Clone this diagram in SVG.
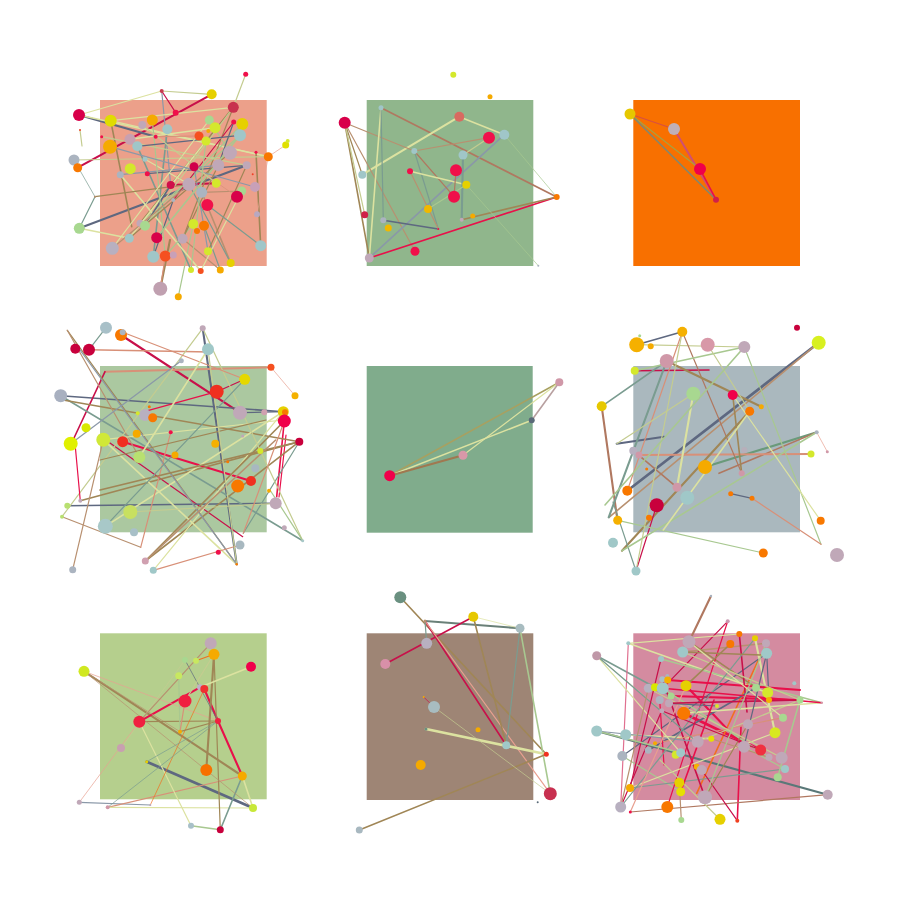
<svg xmlns="http://www.w3.org/2000/svg" width="900" height="900" viewBox="0 0 900 900">
<style>
line{stroke-width:1.2;stroke-linecap:round;fill:none}
.w05{stroke-width:0.7}.w15{stroke-width:1.6}.w2{stroke-width:2.1}.w3{stroke-width:2.7}
.s1{stroke:#5E6880}.s2{stroke:#A08656}.s3{stroke:#DCE2A0}.s4{stroke:#C8104A}.s5{stroke:#E8104A}.s6{stroke:#D89078}.s7{stroke:#A8C890}.s8{stroke:#7A9C90}.s9{stroke:#B89070}.s10{stroke:#C4CC90}.s11{stroke:#8A98A8}.s12{stroke:#E8A090}.s13{stroke:#B07860}.s14{stroke:#F07020}
.r{fill:#F0104A}.cr{fill:#C8003C}.y{fill:#E6D000}.yg{fill:#D4E82C}.o{fill:#F87800}.a{fill:#F5AA00}.lb{fill:#A0C6C8}.gb{fill:#ABB4C0}.lv{fill:#C0A8B8}.pk{fill:#D898AC}.lg{fill:#A8D890}.ro{fill:#F04028}.sg{fill:#6A9080}.sl{fill:#5A6A78}.cs{fill:#D86A60}
</style>
<rect width="900" height="900" fill="#fff"/>
<g id="panels">
<rect x="100" y="100" width="166.7" height="166" fill="#ECA08A"/>
<rect x="366.7" y="100" width="166.6" height="166" fill="#90B68C"/>
<rect x="633.3" y="100" width="166.7" height="166" fill="#F87000"/>
<rect x="100" y="366" width="166.7" height="166.3" fill="#ABC8A0"/>
<rect x="366.7" y="366" width="166" height="166.7" fill="#80AC8C"/>
<rect x="633.3" y="366" width="166.7" height="166.3" fill="#AAB8BE"/>
<rect x="100" y="633.3" width="166.7" height="166" fill="#B5CF8D"/>
<rect x="366.7" y="633.3" width="166.6" height="166.7" fill="#9E8575"/>
<rect x="633.3" y="633.3" width="166.7" height="166.7" fill="#D48BA0"/>
</g>
<g id="connectors">
<!-- panel 1 -->
<line class="s4 w2" x1="211.7" y1="94.3" x2="77.7" y2="167.7"/>
<line class="s1 w2" x1="79" y1="115" x2="155.7" y2="136.7"/>
<line class="s1 w2" x1="79.3" y1="228.3" x2="246.7" y2="165.3"/>
<line class="s4 w2" x1="170.7" y1="185" x2="216.3" y2="183.3"/>
<line class="s10" x1="245.7" y1="74.3" x2="233.3" y2="107.3"/>
<line class="s10" x1="211.7" y1="94.3" x2="161.7" y2="91"/>
<line class="s11" x1="161.7" y1="91" x2="170.7" y2="185"/>
<line class="s3 w15" x1="79" y1="115" x2="268.3" y2="156.7"/>
<line class="s3" x1="110.7" y1="120.7" x2="268.3" y2="156.7"/>
<line class="s2 w15" x1="233.3" y1="107.3" x2="140" y2="223.3"/>
<line class="s2" x1="233.3" y1="107.3" x2="182.7" y2="238.7"/>
<line class="s2 w15" x1="256" y1="152.3" x2="260.7" y2="245.7"/>
<line class="s2 w2" x1="160.3" y1="288.7" x2="170" y2="240"/>
<line class="s7" x1="178.3" y1="296.7" x2="193.3" y2="224"/>
<line class="s10" x1="74" y1="160" x2="268.3" y2="156.7"/>
<line class="s2 w15" x1="110.7" y1="120.7" x2="131.7" y2="226.7"/>
<line class="s3 w15" x1="129.3" y1="238.3" x2="79.3" y2="228.3"/>
<line class="s7" x1="240" y1="135.3" x2="140" y2="223.3"/>
<line class="s9" x1="241.7" y1="191" x2="201.7" y2="192.3"/>
<line class="s9 w15" x1="201.7" y1="192.3" x2="230.7" y2="263"/>
<line class="s8 w15" x1="167.3" y1="129.3" x2="153.3" y2="256.7"/>
<line class="s8 w15" x1="137.3" y1="146.3" x2="191" y2="270"/>
<line class="s3 w15" x1="120.3" y1="174.7" x2="200.7" y2="271"/>
<line class="s3" x1="145" y1="159.3" x2="189" y2="184.3"/>
<line class="s7" x1="242.3" y1="124" x2="145" y2="225.7"/>
<line class="s4" x1="233.7" y1="122" x2="173.3" y2="200"/>
<line class="s12 w05" x1="285.7" y1="145" x2="268.3" y2="156.7"/>
<line class="s1" x1="246.7" y1="165.3" x2="147.3" y2="173.7"/>
<line class="s11" x1="218.3" y1="165.3" x2="120.3" y2="174.7"/>
<line class="s7" x1="193.3" y1="224" x2="165.3" y2="256"/>
<line class="s3 w15" x1="206" y1="141" x2="129.3" y2="238.3"/>
<line class="s3 w15" x1="215" y1="127.7" x2="130" y2="139.3"/>
<line class="s7" x1="209.3" y1="120" x2="230" y2="152.7"/>
<line class="s11" x1="194" y1="166.7" x2="208" y2="251.3"/>
<line class="s8" x1="204" y1="225.7" x2="220.3" y2="270"/>
<line class="s9" x1="182.7" y1="238.7" x2="220.3" y2="270"/>
<line class="s6" x1="155.7" y1="136.7" x2="199" y2="136"/>
<line class="s12 w05" x1="268.3" y1="156.7" x2="257" y2="214.3"/>
<line class="s8 w05" x1="74" y1="160" x2="95" y2="196.7"/>
<line class="s8" x1="95" y1="196.7" x2="79.3" y2="228.3"/>
<line class="s1" x1="173.3" y1="200" x2="153.3" y2="256.7"/>
<line class="s1 w15" x1="170.7" y1="185" x2="145" y2="225.7"/>
<line class="s7" x1="152.3" y1="120" x2="165.3" y2="256"/>
<line class="s2" x1="95" y1="196.7" x2="189" y2="184.3"/>
<line class="s10" x1="80" y1="130" x2="82" y2="146"/>
<line class="s10" x1="101.7" y1="136.7" x2="246.7" y2="165.3"/>
<line class="s1" x1="137.3" y1="146.3" x2="240" y2="135.3"/>
<line class="s4" x1="161.7" y1="91" x2="175.7" y2="112.7"/>
<line class="s2" x1="208" y1="251.3" x2="246.7" y2="165.3"/>
<line class="s3" x1="200.7" y1="271" x2="241.7" y2="191"/>
<line class="s6" x1="165.3" y1="256" x2="160.3" y2="288.7"/>
<line class="s8" x1="189" y1="184.3" x2="230.7" y2="263"/>
<line class="s3" x1="110.7" y1="120.7" x2="233.3" y2="107.3"/>
<line class="s1" x1="218.3" y1="165.3" x2="233.7" y2="122"/>
<line class="s10" x1="233.3" y1="107.3" x2="145" y2="225.7"/>
<line class="s3" x1="209.3" y1="120" x2="112.3" y2="248.3"/>
<line class="s2" x1="230" y1="152.7" x2="129.3" y2="238.3"/>
<line class="s7 w15" x1="240" y1="135.3" x2="156.7" y2="237.7"/>
<line class="s11" x1="255" y1="187" x2="110" y2="146.7"/>
<line class="s3" x1="161.7" y1="91" x2="79" y2="115"/>
<line class="s2" x1="182.7" y1="238.7" x2="218.3" y2="165.3"/>
<line class="s8" x1="207.3" y1="205" x2="260.7" y2="245.7"/>
<line class="s6 w05" x1="237" y1="196.7" x2="194" y2="166.7"/>
<line class="s10" x1="142.3" y1="125" x2="216.3" y2="183.3"/>
<line class="s9" x1="112.3" y1="248.3" x2="189" y2="184.3"/>
<line class="s7" x1="191" y1="270" x2="206" y2="141"/>
<!-- panel 2 -->
<line class="s13 w15" x1="381" y1="107.7" x2="556.7" y2="197"/>
<line class="s3 w2" x1="362.3" y1="174.7" x2="459.3" y2="116.7"/>
<line class="s3 w15" x1="459.3" y1="116.7" x2="504.3" y2="134.7"/>
<line class="s2 w15" x1="344.7" y1="122.7" x2="369.3" y2="258"/>
<line class="s2" x1="344.7" y1="122.7" x2="362.3" y2="174.7"/>
<line class="s10" x1="344.7" y1="122.7" x2="364.7" y2="214.7"/>
<line class="s9" x1="344.7" y1="122.7" x2="415" y2="251.3"/>
<line class="s9" x1="344.7" y1="122.7" x2="414.3" y2="151"/>
<line class="s9" x1="414.3" y1="151" x2="489" y2="137.7"/>
<line class="s5 w15" x1="369.3" y1="258" x2="556.7" y2="197"/>
<line class="s11 w15" x1="369.3" y1="258" x2="504.3" y2="134.7"/>
<line class="s3 w15" x1="381" y1="107.7" x2="369.3" y2="258"/>
<line class="s8" x1="381" y1="107.7" x2="383.3" y2="220.3"/>
<line class="s1 w15" x1="383.3" y1="220.3" x2="438.3" y2="229"/>
<line class="s13" x1="414.3" y1="151" x2="454" y2="196.7"/>
<line class="s8" x1="414.3" y1="151" x2="438.3" y2="229"/>
<line class="s3 w15" x1="410" y1="171.3" x2="466.3" y2="184.7"/>
<line class="s9" x1="410" y1="171.3" x2="438.3" y2="229"/>
<line class="s8 w2" x1="463" y1="155" x2="461.7" y2="219.7"/>
<line class="s2 w15" x1="461.7" y1="219.7" x2="556.7" y2="197"/>
<line class="s13" x1="456" y1="170.3" x2="454" y2="196.7"/>
<line class="s7 w05" x1="466.3" y1="184.7" x2="538.3" y2="265.7"/>
<line class="s10" x1="463" y1="155" x2="489" y2="137.7"/>
<line class="s7" x1="428" y1="209" x2="466.3" y2="184.7"/>
<line class="s7 w05" x1="504.3" y1="134.7" x2="556.7" y2="197"/>
<!-- panel 3 -->
<line x1="630" y1="114" x2="674" y2="129" style="stroke:#D85040"/>
<line class="w2" x1="674" y1="129" x2="716" y2="199.7" style="stroke:#D05070"/>
<line x1="630" y1="114" x2="700" y2="169" style="stroke:#A8A040"/>
<line class="w15" x1="630" y1="114" x2="716" y2="199.7" style="stroke:#808870"/>
<line class="s5 w15" x1="700" y1="169" x2="716" y2="199.7"/>
<!-- panel 4 -->
<line class="s4 w2" x1="121" y1="335" x2="240" y2="412.7"/>
<line class="s6 w15" x1="89" y1="349.7" x2="210" y2="352"/>
<line class="s1 w2" x1="202.7" y1="328.3" x2="236.7" y2="564.3"/>
<line class="s1 w15" x1="60.7" y1="395.7" x2="283.3" y2="411.7"/>
<line class="s6 w2" x1="105" y1="371.7" x2="271" y2="367.3"/>
<line class="s4 w15" x1="105" y1="371.7" x2="74" y2="438"/>
<line class="s5 w2" x1="122.7" y1="441.7" x2="251" y2="481"/>
<line class="s4" x1="110" y1="443" x2="242.7" y2="536.7"/>
<line class="s1 w15" x1="67.3" y1="505.7" x2="275.7" y2="503.3"/>
<line class="s8 w15" x1="60.7" y1="395.7" x2="302.7" y2="540.7"/>
<line class="s4" x1="216.7" y1="391.7" x2="244.7" y2="379.3"/>
<line class="s5" x1="216.7" y1="391.7" x2="137.7" y2="413.3"/>
<line class="s5 w15" x1="284.3" y1="421" x2="276.7" y2="496.7"/>
<line class="s5" x1="286" y1="435" x2="279" y2="497"/>
<line class="s2 w15" x1="299.3" y1="441.7" x2="80.3" y2="500.7"/>
<line class="s2 w15" x1="299.3" y1="441.7" x2="145.3" y2="561"/>
<line class="s8" x1="299.3" y1="441.7" x2="243.3" y2="533.3"/>
<line class="s2 w15" x1="63" y1="400" x2="299.3" y2="441.7"/>
<line class="s1" x1="240" y1="412.7" x2="283.3" y2="411.7"/>
<line class="s3" x1="153.3" y1="570.3" x2="283.3" y2="411.7"/>
<line class="s2 w15" x1="145.3" y1="561" x2="284.3" y2="421"/>
<line class="s3 w15" x1="105.3" y1="526.3" x2="283.3" y2="411.7"/>
<line class="s2" x1="67.3" y1="330.3" x2="236.7" y2="564.3"/>
<line class="s9" x1="67.3" y1="330.3" x2="139.3" y2="457.3"/>
<line class="s9" x1="62" y1="516.7" x2="140.7" y2="547.3"/>
<line class="s6" x1="140.7" y1="547.3" x2="170.7" y2="432.3"/>
<line class="s10" x1="202.7" y1="328.3" x2="302.7" y2="540.7"/>
<line class="s10" x1="202.7" y1="328.3" x2="62" y2="516.7"/>
<line class="s3 w15" x1="103.3" y1="439.7" x2="236.7" y2="564.3"/>
<line class="s3" x1="103.3" y1="439.7" x2="283.3" y2="420"/>
<line class="s8" x1="106" y1="327.7" x2="89" y2="349.7"/>
<line class="s11" x1="80" y1="350" x2="236.7" y2="564.3"/>
<line class="s11" x1="70.7" y1="443.7" x2="181.3" y2="360.7"/>
<line class="s6" x1="122.7" y1="332.3" x2="244.7" y2="379.3"/>
<line class="s5" x1="74.5" y1="438" x2="80.3" y2="500.7"/>
<line class="s2 w15" x1="100" y1="490" x2="299.3" y2="441.7"/>
<line class="s10" x1="130.3" y1="512" x2="275.7" y2="503.3"/>
<line class="s6" x1="153.3" y1="570.3" x2="240" y2="545"/>
<line class="s9 w15" x1="145.3" y1="561" x2="275.7" y2="440"/>
<line class="s12 w05" x1="271" y1="367.3" x2="295" y2="395.7"/>
<line class="s7" x1="270" y1="490" x2="302.7" y2="540.7"/>
<line class="s2" x1="100" y1="460" x2="266" y2="420"/>
<line class="s8" x1="105.3" y1="526.3" x2="244.7" y2="379.3"/>
<line class="s9" x1="72.7" y1="569.7" x2="103.3" y2="439.7"/>
<line class="s3 w15" x1="139.3" y1="457.3" x2="208" y2="349.3"/>
<line class="s6" x1="284.3" y1="421" x2="243.3" y2="533.3"/>
<line class="s10" x1="208" y1="349.3" x2="236.7" y2="564.3"/>
<!-- panel 5 -->
<line class="w15" x1="389.7" y1="475.7" x2="559.3" y2="382.3" style="stroke:#A8A060"/>
<line class="s3 w15" x1="389.7" y1="475.7" x2="531.7" y2="420.3"/>
<line class="s3" x1="463" y1="455.3" x2="559.3" y2="382.3"/>
<line class="w2" x1="389.7" y1="475.7" x2="463" y2="455.3" style="stroke:#A07850"/>
<line class="w15" x1="531.7" y1="420.3" x2="559.3" y2="382.3" style="stroke:#B8A0A0"/>
<!-- panel 6 -->
<line class="s1 w15" x1="636.7" y1="344.7" x2="682.3" y2="331.7"/>
<line class="s10" x1="636.7" y1="344.7" x2="744.3" y2="347"/>
<line class="s4 w15" x1="634.7" y1="370.7" x2="709" y2="370"/>
<line class="s8 w15" x1="601.7" y1="406.3" x2="666.7" y2="361"/>
<line class="s13 w2" x1="601.7" y1="406.3" x2="616.7" y2="515"/>
<line class="s1 w3" x1="818.7" y1="342.7" x2="627.3" y2="490.7"/>
<line class="s9 w15" x1="818.7" y1="342.7" x2="609" y2="517.3"/>
<line class="w2" x1="816.7" y1="432.3" x2="705" y2="467" style="stroke:#6A9A7A"/>
<line class="s13 w15" x1="816.7" y1="432.3" x2="719" y2="473.3"/>
<line class="s6 w2" x1="639" y1="455" x2="811" y2="454"/>
<line class="s1 w2" x1="616.7" y1="443.7" x2="664" y2="436.7"/>
<line class="s8 w2" x1="666.7" y1="361" x2="608.7" y2="517.3"/>
<line class="s6" x1="682.3" y1="331.7" x2="627.3" y2="490.7"/>
<line class="s13" x1="682.3" y1="331.7" x2="741.7" y2="473.3"/>
<line class="s2 w2" x1="666.7" y1="361" x2="761.3" y2="406.7"/>
<line class="s2 w15" x1="732.7" y1="395" x2="741.7" y2="473.3"/>
<line class="s3 w2" x1="693.3" y1="393.7" x2="677" y2="487.3"/>
<line class="s2 w2" x1="749.7" y1="411.3" x2="622" y2="550.7"/>
<line class="s7" x1="744.3" y1="347" x2="821" y2="544.3"/>
<line class="s7 w15" x1="634.7" y1="370.7" x2="744.3" y2="347"/>
<line class="s8" x1="636" y1="571" x2="613" y2="502"/>
<line class="s4" x1="636" y1="571" x2="656.7" y2="505.3"/>
<line class="s7" x1="617.7" y1="520.3" x2="763.3" y2="553"/>
<line class="s6" x1="752" y1="498.3" x2="821" y2="544.3"/>
<line class="s1" x1="730.7" y1="493.7" x2="752" y2="498.3"/>
<line class="s7 w15" x1="816.7" y1="432.3" x2="622" y2="550.7"/>
<line class="s10" x1="707.7" y1="344.7" x2="749.7" y2="411.3"/>
<line class="s10" x1="693.3" y1="393.7" x2="616.7" y2="443.7"/>
<line class="s13 w15" x1="633.3" y1="450.7" x2="677" y2="487.3"/>
<line class="s3 w15" x1="749.7" y1="411.3" x2="663.3" y2="530"/>
<line class="s10" x1="682.3" y1="331.7" x2="636" y2="571"/>
<line class="s3" x1="732.7" y1="395" x2="820.7" y2="520.7"/>
<line class="s12 w05" x1="816.7" y1="432.3" x2="827.3" y2="451.7"/>
<line class="s7 w15" x1="744.3" y1="347" x2="605" y2="505"/>
<!-- panel 7 -->
<line class="s2 w2" x1="84" y1="671.3" x2="242.3" y2="776"/>
<line class="s5 w2" x1="139.3" y1="721.7" x2="200" y2="687.3"/>
<line class="s5 w2" x1="204.3" y1="689" x2="218" y2="721"/>
<line class="s5 w2" x1="218" y1="721" x2="242.3" y2="776"/>
<line class="s1 w3" x1="146.7" y1="761.7" x2="253" y2="808"/>
<line class="s11" x1="79.3" y1="802.3" x2="150.3" y2="805"/>
<line class="s6" x1="107.7" y1="807.3" x2="242.3" y2="776"/>
<line class="s3" x1="107.7" y1="807.3" x2="253" y2="808"/>
<line class="s9 w05" x1="84" y1="671.3" x2="180" y2="731.7"/>
<line class="s12 w05" x1="84" y1="671.3" x2="218" y2="721"/>
<line class="s2" x1="139.3" y1="721.7" x2="218" y2="721"/>
<line class="s2 w2" x1="214" y1="654.3" x2="206.3" y2="770"/>
<line class="s2" x1="214" y1="654.3" x2="220.3" y2="829.7"/>
<line class="s14" x1="196" y1="660.7" x2="214" y2="654.3"/>
<line class="s1 w05" x1="185" y1="660" x2="218" y2="721"/>
<line class="s7" x1="178.7" y1="675.7" x2="180" y2="731.7"/>
<line class="s8 w15" x1="242.3" y1="776" x2="220.3" y2="829.7"/>
<line class="s7 w15" x1="191" y1="825.7" x2="220.3" y2="829.7"/>
<line class="s3" x1="191" y1="825.7" x2="139.3" y2="721.7"/>
<line class="s12 w05" x1="79.3" y1="802.3" x2="139.3" y2="721.7"/>
<line class="s14 w05" x1="150.3" y1="805" x2="204.3" y2="689"/>
<line class="s3 w15" x1="251" y1="666.7" x2="200" y2="687.3"/>
<line class="s10 w05" x1="121" y1="748" x2="185" y2="660"/>
<line class="s3 w15" x1="253" y1="808" x2="242.3" y2="776"/>
<line class="s8 w05" x1="146.7" y1="761.7" x2="218" y2="721"/>
<line class="s8 w05" x1="107.7" y1="807.3" x2="218" y2="721"/>
<line class="s9" x1="139.3" y1="721.7" x2="210.7" y2="643.3"/>
<line class="s6" x1="185" y1="701" x2="180" y2="731.7"/>
<line class="s2" x1="180" y1="731.7" x2="218" y2="721"/>
<line class="s10" x1="185" y1="701" x2="214" y2="654.3"/>
<line class="s9 w05" x1="84" y1="671.3" x2="253" y2="808"/>
<!-- panel 8 -->
<line class="s2 w15" x1="400.3" y1="597.3" x2="546.3" y2="754.3"/>
<line class="w2" x1="425" y1="621" x2="520" y2="628.3" style="stroke:#6A8078"/>
<line class="s4 w15" x1="385.3" y1="664" x2="473.3" y2="616.7"/>
<line class="s4 w15" x1="425" y1="621" x2="506.3" y2="745.3"/>
<line class="s12" x1="425" y1="621" x2="550.3" y2="793.7"/>
<line class="s2 w15" x1="473.3" y1="616.7" x2="506.3" y2="745.3"/>
<line class="s8" x1="520" y1="628.3" x2="506.3" y2="745.3"/>
<line class="s7 w15" x1="520" y1="628.3" x2="550.3" y2="793.7"/>
<line class="s3 w05" x1="473.3" y1="616.7" x2="520" y2="628.3"/>
<line class="s3 w3" x1="426" y1="729" x2="546.3" y2="754.3"/>
<line class="s2 w15" x1="359.3" y1="830" x2="546.3" y2="754.3"/>
<line class="s4 w05" x1="423.7" y1="697" x2="434" y2="707"/>
<line class="s10 w05" x1="434" y1="707" x2="550.3" y2="793.7"/>
<line class="s8" x1="425" y1="621" x2="426.7" y2="643.3"/>
<!-- panel 9 -->
<line class="s13 w2" x1="711" y1="596" x2="689" y2="641.7"/>
<line class="s4" x1="727.7" y1="621.3" x2="662.7" y2="688.3"/>
<line class="s8 w15" x1="596.7" y1="655.7" x2="671" y2="696"/>
<line class="s10 w05" x1="596.7" y1="655.7" x2="661.7" y2="710.7"/>
<line class="w2" x1="596.7" y1="731" x2="827.7" y2="794.7" style="stroke:#5A7878"/>
<line x1="628.3" y1="643.3" x2="620.7" y2="807" style="stroke:#E07090"/>
<line class="s5 w2" x1="671" y1="696" x2="798.3" y2="700"/>
<line class="s5 w3" x1="683.7" y1="713.3" x2="760.7" y2="750"/>
<line class="s14 w15" x1="760.7" y1="655" x2="696.7" y2="793.3"/>
<line class="s5 w15" x1="737.3" y1="820.7" x2="741" y2="727"/>
<line class="s13" x1="630.3" y1="812" x2="827.7" y2="794.7"/>
<line class="s1" x1="622.3" y1="756" x2="766.7" y2="653.3"/>
<line class="s4" x1="620.7" y1="807" x2="661.7" y2="710.7"/>
<line class="s3 w15" x1="628.3" y1="643.3" x2="767.7" y2="692.7"/>
<line class="s7 w15" x1="661" y1="659" x2="821.7" y2="702.7"/>
<line class="s9 w15" x1="682.7" y1="652" x2="766" y2="643.3"/>
<line class="s2 w15" x1="689" y1="641.7" x2="756" y2="687.7"/>
<line class="s3 w2" x1="755" y1="638.3" x2="775" y2="732.7"/>
<line class="s5 w2" x1="686" y1="685.7" x2="744" y2="746.7"/>
<line class="s4 w15" x1="739.3" y1="634" x2="747" y2="712"/>
<line class="s1 w15" x1="648.3" y1="750.3" x2="756" y2="687.7"/>
<line class="s7" x1="622.3" y1="756" x2="680.7" y2="791.7"/>
<line class="s8" x1="630" y1="788" x2="785" y2="769"/>
<line class="s3 w15" x1="625.7" y1="734.7" x2="711.3" y2="738.7"/>
<line class="s5" x1="667.3" y1="807" x2="727.7" y2="621.3"/>
<line class="s4 w15" x1="662.3" y1="679.3" x2="705" y2="797.3"/>
<line class="s7 w15" x1="662.7" y1="688.3" x2="769" y2="757.3"/>
<line class="s10" x1="697.7" y1="741.7" x2="800" y2="700"/>
<line class="s3" x1="630" y1="788" x2="775" y2="732.7"/>
<line class="s6" x1="655" y1="743.3" x2="783" y2="717.7"/>
<line class="s1" x1="769" y1="700" x2="766.7" y2="653.3"/>
<line class="s7 w15" x1="800" y1="700" x2="777.7" y2="777.3"/>
<line class="s5" x1="659.7" y1="700" x2="664" y2="765"/>
<line class="s9" x1="681.3" y1="820" x2="679.3" y2="782.7"/>
<line class="s10" x1="720" y1="819.3" x2="660" y2="760"/>
<line class="s4" x1="737.3" y1="820.7" x2="701.7" y2="770"/>
<line class="s2" x1="705" y1="797.3" x2="748" y2="724.3"/>
<line class="s3 w15" x1="683.7" y1="713.3" x2="821.7" y2="702.7"/>
<line class="s11" x1="596.7" y1="731" x2="697.7" y2="741.7"/>
<line class="s5 w2" x1="667.7" y1="680" x2="800" y2="690"/>
<line class="s8" x1="620.7" y1="807" x2="755" y2="638.3"/>
<line class="s10" x1="648.3" y1="688.3" x2="781.7" y2="757.7"/>
<line class="s12" x1="630.3" y1="812" x2="686" y2="685.7"/>
<line class="s2 w15" x1="682.7" y1="652" x2="760.7" y2="655"/>
<line class="s7" x1="785" y1="769" x2="744" y2="746.7"/>
<line class="s4" x1="661.7" y1="710.7" x2="760.7" y2="750"/>
<line class="s3" x1="596.7" y1="655.7" x2="680.7" y2="752.7"/>
<line class="s1" x1="669" y1="703.3" x2="717" y2="706"/>
<line class="s9" x1="711.3" y1="738.7" x2="769" y2="757.3"/>
<line class="s5 w15" x1="680.7" y1="791.7" x2="714" y2="700"/>
<line class="s5 w15" x1="662.7" y1="688.3" x2="821.7" y2="702.7"/>
<line class="s4 w15" x1="669" y1="703.3" x2="800" y2="700"/>
<line class="s8" x1="596.7" y1="655.7" x2="696.7" y2="741.7"/>
<line class="s3" x1="689" y1="641.7" x2="783" y2="717.7"/>
<line class="s10" x1="682.7" y1="652" x2="800" y2="700"/>
<line class="s1" x1="766.7" y1="653.3" x2="744" y2="746.7"/>
<line class="s3" x1="628.3" y1="643.3" x2="739.3" y2="634"/>
<line class="s4" x1="630" y1="788" x2="661" y2="659"/>
<line class="s7" x1="705" y1="797.3" x2="766" y2="643.3"/>
<line class="s9" x1="620.7" y1="807" x2="648.3" y2="688.3"/>
<line class="s2 w15" x1="686" y1="685.7" x2="730.3" y2="644"/>
<line class="s7 w15" x1="596.7" y1="731" x2="680.7" y2="752.7"/>
</g>
<g id="nodes">
<g id="p1">
<circle cx="245.7" cy="74.3" r="2.5" class="r"/><circle cx="211.7" cy="94.3" r="5" class="y"/><circle cx="161.7" cy="91" r="2" style="fill:#C83C50"/><circle cx="233.3" cy="107.3" r="5.5" style="fill:#C8324E"/>
<circle cx="79" cy="115" r="6" style="fill:#D8004A"/><circle cx="110.7" cy="120.7" r="6" style="fill:#E0DC00"/><circle cx="142.3" cy="125" r="4" class="lv"/><circle cx="152.3" cy="120" r="5.5" class="a"/>
<circle cx="175.7" cy="112.7" r="3" class="r"/><circle cx="209.3" cy="120" r="4.5" class="lg"/><circle cx="215" cy="127.7" r="5.5" class="yg"/><circle cx="233.7" cy="122" r="2.5" class="r"/>
<circle cx="242.3" cy="124" r="6" class="y"/><circle cx="240" cy="135.3" r="6" class="lb"/><circle cx="167.3" cy="129.3" r="5" class="lb"/><circle cx="199" cy="136" r="4.5" style="fill:#F55020"/>
<circle cx="208.3" cy="131" r="2" class="a"/><circle cx="206" cy="141" r="4.5" class="yg"/><circle cx="155.7" cy="136.7" r="2" class="r"/><circle cx="101.7" cy="136.7" r="1.5" class="r"/>
<circle cx="80" cy="130" r="1" class="ro"/><circle cx="130" cy="139.3" r="5.5" style="fill:#C8A0B0"/><circle cx="137.3" cy="146.3" r="5" class="lb"/><circle cx="110" cy="146.7" r="7" class="a"/>
<circle cx="74" cy="160" r="5.5" class="gb"/><circle cx="77.7" cy="167.7" r="4.5" class="o"/><circle cx="230" cy="152.7" r="7" class="lv"/><circle cx="256" cy="152.3" r="1.5" class="r"/>
<circle cx="268.3" cy="156.7" r="4.5" class="o"/><circle cx="285.7" cy="145" r="3.5" style="fill:#E0E000"/><circle cx="287.7" cy="141" r="2" class="yg"/><circle cx="145" cy="159.3" r="2.5" class="lb"/>
<circle cx="130.3" cy="168.7" r="5.5" class="yg"/><circle cx="120.3" cy="174.7" r="3.5" class="gb"/><circle cx="147.3" cy="173.7" r="2.5" class="r"/><circle cx="194" cy="166.7" r="4.5" style="fill:#D0004A"/>
<circle cx="218.3" cy="165.3" r="6" class="lv"/><circle cx="246.7" cy="165.3" r="4" class="lv"/><circle cx="252.7" cy="174.3" r="1" class="ro"/><circle cx="170.7" cy="185" r="4" style="fill:#D0104A"/>
<circle cx="189" cy="184.3" r="6.5" class="lv"/><circle cx="216.3" cy="183.3" r="4.5" class="yg"/><circle cx="201.7" cy="192.3" r="5.5" class="gb"/><circle cx="255" cy="187" r="5" style="fill:#C8A0B8"/>
<circle cx="241.7" cy="191" r="4.5" class="lg"/><circle cx="237" cy="196.7" r="6" style="fill:#D8004A"/><circle cx="207.3" cy="205" r="6" class="r"/><circle cx="173.3" cy="200" r="2" class="gb"/>
<circle cx="95" cy="196.7" r="1" style="fill:#B89070"/><circle cx="257" cy="214.3" r="3" style="fill:#B8A8C0"/><circle cx="79.3" cy="228.3" r="5.5" class="lg"/><circle cx="140" cy="223.3" r="3.5" class="lv"/>
<circle cx="145" cy="225.7" r="5" class="lg"/><circle cx="193.3" cy="224" r="5" class="yg"/><circle cx="204" cy="225.7" r="5" class="o"/><circle cx="197" cy="231" r="3" class="o"/>
<circle cx="129.3" cy="238.3" r="4.5" class="lb"/><circle cx="156.7" cy="237.7" r="5.5" style="fill:#D8004A"/><circle cx="182.7" cy="238.7" r="5" class="lv"/><circle cx="112.3" cy="248.3" r="6.5" style="fill:#B8B0C0"/>
<circle cx="260.7" cy="245.7" r="5.5" class="lb"/><circle cx="153.3" cy="256.7" r="6" class="lb"/><circle cx="165.3" cy="256" r="5.5" style="fill:#F55020"/><circle cx="173.3" cy="255" r="3.5" style="fill:#C8A0B8"/>
<circle cx="208" cy="251.3" r="4" class="yg"/><circle cx="230.7" cy="263" r="4" class="y"/><circle cx="191" cy="270" r="3" class="yg"/><circle cx="200.7" cy="271" r="3" style="fill:#F55020"/>
<circle cx="220.3" cy="270" r="3.5" class="a"/><circle cx="160.3" cy="288.7" r="7" style="fill:#C0A0B0"/><circle cx="178.3" cy="296.7" r="3.5" class="a"/>
</g>
<g id="p2">
<circle cx="453.3" cy="74.7" r="3" class="yg"/><circle cx="490" cy="96.7" r="2.5" class="a"/><circle cx="381" cy="107.7" r="2.5" class="lb"/><circle cx="459.3" cy="116.7" r="5" class="cs"/>
<circle cx="344.7" cy="122.7" r="6" style="fill:#D8004A"/><circle cx="489" cy="137.7" r="6" class="r"/><circle cx="504.3" cy="134.7" r="5" class="lb"/><circle cx="414.3" cy="151" r="3" class="lb"/>
<circle cx="463" cy="155" r="4.5" class="lb"/><circle cx="362.3" cy="174.7" r="4" class="lb"/><circle cx="410" cy="171.3" r="3" class="r"/><circle cx="456" cy="170.3" r="6" class="r"/>
<circle cx="466.3" cy="184.7" r="4" class="y"/><circle cx="454" cy="196.7" r="6" class="r"/><circle cx="556.7" cy="197" r="3" class="o"/><circle cx="428" cy="209" r="4" style="fill:#F0B800"/>
<circle cx="472.7" cy="216" r="2.5" class="a"/><circle cx="461.7" cy="219.7" r="2" class="lv"/><circle cx="364.7" cy="214.7" r="3.5" style="fill:#D02048"/><circle cx="383.3" cy="220.3" r="3" class="gb"/>
<circle cx="388.3" cy="228" r="3.5" style="fill:#F0B800"/><circle cx="438.3" cy="229" r="1" class="r"/><circle cx="415" cy="251.3" r="4.5" class="r"/><circle cx="369.3" cy="258" r="4.5" class="lv"/>
<circle cx="538.3" cy="265.7" r="1" class="gb"/>
</g>
<g id="p3">
<circle cx="630" cy="114" r="5.5" style="fill:#E6C800"/><circle cx="674" cy="129" r="6" style="fill:#C0B0B8"/><circle cx="700" cy="169" r="6" style="fill:#F0004A"/><circle cx="716" cy="199.7" r="3" style="fill:#D02048"/>
</g>
<g id="p4">
<circle cx="106" cy="327.7" r="6" style="fill:#A8C0C8"/><circle cx="121" cy="335" r="6" class="o"/><circle cx="122.7" cy="332.3" r="3" class="gb"/><circle cx="75.3" cy="348.7" r="5" class="cr"/>
<circle cx="89" cy="349.7" r="6" class="cr"/><circle cx="202.7" cy="328.3" r="3" class="lv"/><circle cx="208" cy="349.3" r="6" style="fill:#A0C8C8"/><circle cx="181.3" cy="360.7" r="2.5" class="gb"/>
<circle cx="271" cy="367.3" r="3.5" style="fill:#F55020"/><circle cx="244.7" cy="379.3" r="5.5" style="fill:#E6D800"/><circle cx="216.7" cy="391.7" r="7" style="fill:#F03020"/><circle cx="60.7" cy="395.7" r="6.5" style="fill:#A8B0C0"/>
<circle cx="295" cy="395.7" r="3.5" style="fill:#F5B000"/><circle cx="240" cy="412.7" r="7" class="lv"/><circle cx="264.3" cy="412.3" r="3" style="fill:#D0A0B0"/><circle cx="283.3" cy="411.7" r="5.5" class="y"/>
<circle cx="285" cy="412.3" r="3" class="o"/><circle cx="284.3" cy="421" r="6.5" style="fill:#F0004A"/><circle cx="145" cy="415" r="6" style="fill:#B8B0C0"/><circle cx="152.7" cy="417.7" r="4.5" class="o"/>
<circle cx="137.7" cy="413.3" r="2" class="yg"/><circle cx="149.3" cy="406.7" r="1.5" class="o"/><circle cx="86" cy="427.7" r="4.5" style="fill:#D8E800"/><circle cx="70.7" cy="443.7" r="7" style="fill:#E0F000"/>
<circle cx="103.3" cy="439.7" r="7" style="fill:#D0E838"/><circle cx="122.7" cy="441.7" r="5.5" style="fill:#F03020"/><circle cx="136.7" cy="433.7" r="4" class="a"/><circle cx="170.7" cy="432.3" r="2" class="r"/>
<circle cx="215.3" cy="443.7" r="4" style="fill:#F5B000"/><circle cx="175" cy="455" r="3.5" class="a"/><circle cx="139.3" cy="457.3" r="6" style="fill:#B8E070"/><circle cx="260.3" cy="451" r="3" class="yg"/>
<circle cx="299.3" cy="441.7" r="4" class="cr"/><circle cx="242.7" cy="436" r="1.5" class="lv"/><circle cx="227.7" cy="461.7" r="1.5" class="o"/><circle cx="255.3" cy="468.3" r="4" style="fill:#A8B8C0"/>
<circle cx="237.7" cy="486" r="6.5" class="o"/><circle cx="251" cy="481" r="5" style="fill:#F03020"/><circle cx="269" cy="490.7" r="2" class="a"/><circle cx="275.7" cy="503.3" r="6" class="lv"/>
<circle cx="80.3" cy="500.7" r="2" class="lv"/><circle cx="67.3" cy="505.7" r="3" style="fill:#B8E070"/><circle cx="62" cy="516.7" r="2" style="fill:#B8E070"/><circle cx="130.3" cy="512" r="7" style="fill:#C8E060"/>
<circle cx="105.3" cy="526.3" r="7.5" style="fill:#A8C8C8"/><circle cx="134" cy="532.3" r="4" style="fill:#A8C0C8"/><circle cx="284.3" cy="527.7" r="2.5" class="lv"/><circle cx="302.7" cy="540.7" r="1.5" style="fill:#A8C8C8"/>
<circle cx="240" cy="545" r="4.5" style="fill:#A8B8C0"/><circle cx="218.3" cy="552.3" r="2.5" class="r"/><circle cx="145.3" cy="561" r="3.5" style="fill:#D0A0B0"/><circle cx="153.3" cy="570.3" r="3.5" style="fill:#A0C8C8"/>
<circle cx="236.7" cy="564.3" r="1.2" class="o"/><circle cx="72.7" cy="569.7" r="3.5" class="gb"/>
</g>
<g id="p5">
<circle cx="559.3" cy="382.3" r="4" style="fill:#D098A8"/><circle cx="531.7" cy="420.3" r="3" class="sl"/><circle cx="463" cy="455.3" r="4.5" style="fill:#D898A8"/><circle cx="389.7" cy="475.7" r="5.5" style="fill:#F0004A"/>
</g>
<g id="p6">
<circle cx="797" cy="327.7" r="3" class="cr"/><circle cx="818.7" cy="342.7" r="7" style="fill:#D8F020"/><circle cx="682.3" cy="331.7" r="5" style="fill:#F5B000"/><circle cx="636.7" cy="344.7" r="7.5" style="fill:#F5B000"/>
<circle cx="650.7" cy="346.3" r="3" class="a"/><circle cx="639.7" cy="335.7" r="1.5" class="lg"/><circle cx="707.7" cy="344.7" r="7" style="fill:#D898A8"/><circle cx="744.3" cy="347" r="6" class="lv"/>
<circle cx="666.7" cy="361" r="7" style="fill:#D098A8"/><circle cx="634.7" cy="370.7" r="4" class="yg"/><circle cx="693.3" cy="393.7" r="7" class="lg"/><circle cx="732.7" cy="395" r="5" style="fill:#F0004A"/>
<circle cx="601.7" cy="406.3" r="5" style="fill:#E6C800"/><circle cx="761.3" cy="406.7" r="2.5" class="a"/><circle cx="749.7" cy="411.3" r="4.5" class="o"/><circle cx="816.7" cy="432.3" r="2" class="gb"/>
<circle cx="827.3" cy="451.7" r="1.5" style="fill:#D098A8"/><circle cx="811" cy="454" r="3.5" class="yg"/><circle cx="633.3" cy="450.7" r="4" style="fill:#B8B0C0"/><circle cx="639" cy="455" r="3.5" style="fill:#D098A8"/>
<circle cx="744.3" cy="450" r="3" style="fill:#C0A8B8;opacity:.6"/><circle cx="705" cy="467" r="7" class="a"/><circle cx="741.7" cy="473.3" r="3" style="fill:#D098A8"/><circle cx="646.7" cy="469" r="1.5" class="o"/>
<circle cx="627.3" cy="490.7" r="5" class="o"/><circle cx="677" cy="487.3" r="4.5" style="fill:#D098A8"/><circle cx="687.3" cy="497.7" r="7" style="fill:#A0C8C8"/><circle cx="656.7" cy="505.3" r="7" class="cr"/>
<circle cx="730.7" cy="493.7" r="2.5" class="o"/><circle cx="752" cy="498.3" r="2.5" class="o"/><circle cx="649" cy="517.7" r="3" class="o"/><circle cx="617.7" cy="520.3" r="4.5" style="fill:#F5B000"/>
<circle cx="820.7" cy="520.7" r="4" class="o"/><circle cx="613" cy="542.7" r="5" style="fill:#A0C8C8"/><circle cx="763.3" cy="553" r="4.5" class="o"/><circle cx="837" cy="555" r="7" class="lv"/>
<circle cx="636" cy="571" r="4.5" style="fill:#A0C8C8"/>
</g>
<g id="p7">
<circle cx="210.7" cy="643.3" r="6" class="lv"/><circle cx="214" cy="654.3" r="5.5" class="a"/><circle cx="196" cy="660.7" r="3" style="fill:#C8E860"/><circle cx="185" cy="660" r="3" class="lg"/>
<circle cx="251" cy="666.7" r="5" style="fill:#F0004A"/><circle cx="84" cy="671.3" r="5.5" style="fill:#D0E820"/><circle cx="178.7" cy="675.7" r="3.5" style="fill:#C8E860"/><circle cx="200" cy="687.3" r="3" style="fill:#C0B0C8"/>
<circle cx="204.3" cy="689" r="4" style="fill:#F03030"/><circle cx="185" cy="701" r="6.5" style="fill:#F02040"/><circle cx="139.3" cy="721.7" r="6" style="fill:#F02040"/><circle cx="218" cy="721" r="3" style="fill:#F02040"/>
<circle cx="180" cy="731.7" r="2" class="a"/><circle cx="121" cy="748" r="4" style="fill:#C8A0B0"/><circle cx="146.7" cy="761.7" r="1.5" class="y"/><circle cx="206.3" cy="770" r="6" style="fill:#F87000"/>
<circle cx="242.3" cy="776" r="4.5" class="a"/><circle cx="79.3" cy="802.3" r="2.5" class="lv"/><circle cx="107.7" cy="807.3" r="2" style="fill:#D098A8"/><circle cx="150.3" cy="805" r="1" class="lv"/>
<circle cx="253" cy="808" r="4" style="fill:#C8E838"/><circle cx="191" cy="825.7" r="3" style="fill:#A8C0C8"/><circle cx="220.3" cy="829.7" r="3.5" class="cr"/>
</g>
<g id="p8">
<circle cx="400.3" cy="597.3" r="6" class="sg"/><circle cx="473.3" cy="616.7" r="5" style="fill:#E6C800"/><circle cx="520" cy="628.3" r="4.5" style="fill:#A8BCC0"/><circle cx="425" cy="621" r="1.5" style="fill:#B89070"/>
<circle cx="426.7" cy="643.3" r="5.5" style="fill:#B8B0C0"/><circle cx="385.3" cy="664" r="5" style="fill:#D890A8"/><circle cx="434" cy="707" r="6" style="fill:#A8BCC0"/><circle cx="423.7" cy="697" r="1" class="a"/>
<circle cx="478" cy="729.7" r="2.5" class="a"/><circle cx="426" cy="729" r="1.5" class="sg"/><circle cx="506.3" cy="745.3" r="4" style="fill:#A0C8C8"/><circle cx="546.3" cy="754.3" r="2.5" style="fill:#F03020"/>
<circle cx="420.7" cy="765" r="5" class="a"/><circle cx="550.3" cy="793.7" r="6.5" style="fill:#C83050"/><circle cx="537.7" cy="802.3" r="1" class="sl"/><circle cx="359.3" cy="830" r="3.5" style="fill:#A8B8C0"/>
</g>
<g id="p9">
<circle cx="711" cy="596" r="1.2" class="gb"/><circle cx="727.7" cy="621.3" r="2" style="fill:#C898B0"/><circle cx="739.3" cy="634" r="3" class="o"/><circle cx="755" cy="638.3" r="3" class="y"/>
<circle cx="766" cy="643.3" r="4" class="lv"/><circle cx="766.7" cy="653.3" r="5.5" style="fill:#A0C8C8"/><circle cx="689" cy="641.7" r="6.5" class="lv"/><circle cx="682.7" cy="652" r="5.5" style="fill:#A0C8C8"/>
<circle cx="730.3" cy="644" r="4" class="o"/><circle cx="628.3" cy="643.3" r="2" style="fill:#A0C8C8"/><circle cx="596.7" cy="655.7" r="4.5" style="fill:#C098A8"/><circle cx="661" cy="659" r="3" style="fill:#A0C8C8"/>
<circle cx="667.3" cy="676" r="2" class="gb"/><circle cx="662.3" cy="679.3" r="3" style="fill:#A8C0C8"/><circle cx="667.7" cy="680" r="3.5" style="fill:#F5B000"/><circle cx="686" cy="685.7" r="5.5" class="y"/>
<circle cx="648.3" cy="688.3" r="4.5" style="fill:#B8B0C0"/><circle cx="655" cy="687.3" r="4" style="fill:#D8E800"/><circle cx="662.7" cy="688.3" r="6" style="fill:#A0C8C8"/><circle cx="659.7" cy="700" r="4" class="gb"/>
<circle cx="671" cy="696" r="3.5" class="lg"/><circle cx="669" cy="703.3" r="4" class="lv"/><circle cx="661.7" cy="710.7" r="2.5" class="lv"/><circle cx="683.7" cy="713.3" r="6.5" class="o"/>
<circle cx="756" cy="687.7" r="4" class="lg"/><circle cx="767.7" cy="692.7" r="5.5" class="yg"/><circle cx="769" cy="700" r="3" style="fill:#F5B000"/><circle cx="794.3" cy="683.3" r="2" style="fill:#A0C8C8"/>
<circle cx="800" cy="700" r="3.5" class="lg"/><circle cx="821.7" cy="702.7" r="1.2" class="pk"/><circle cx="717" cy="706" r="2" class="yg"/><circle cx="783" cy="717.7" r="4" class="lg"/>
<circle cx="775" cy="732.7" r="5.5" style="fill:#D8E820"/><circle cx="748" cy="724.3" r="5" class="lv"/><circle cx="596.7" cy="731" r="5.5" style="fill:#A0C8C8"/><circle cx="625.7" cy="734.7" r="5.5" style="fill:#A0C8C8"/>
<circle cx="697.7" cy="741.7" r="6" class="lv"/><circle cx="711.3" cy="738.7" r="3" style="fill:#E6E000"/><circle cx="655" cy="743.3" r="2" class="a"/><circle cx="648.3" cy="750.3" r="3.5" class="gb"/>
<circle cx="744" cy="746.7" r="6" class="lv"/><circle cx="760.7" cy="750" r="5.5" style="fill:#F03040"/><circle cx="769" cy="757.3" r="3.5" class="lv"/><circle cx="781.7" cy="757.7" r="6" class="lv"/>
<circle cx="785" cy="769" r="4" style="fill:#A0C8C8"/><circle cx="622.3" cy="756" r="5" class="gb"/><circle cx="675.7" cy="754.7" r="4" class="yg"/><circle cx="680.7" cy="752.7" r="4.5" style="fill:#A0C8C8"/>
<circle cx="696.7" cy="766.7" r="3" style="fill:#F5B000"/><circle cx="701.7" cy="770" r="5" class="lv"/><circle cx="777.7" cy="777.3" r="4" class="lg"/><circle cx="630" cy="788" r="4" class="a"/>
<circle cx="679.3" cy="782.7" r="5" class="y"/><circle cx="680.7" cy="791.7" r="4.5" style="fill:#E6E000"/><circle cx="705" cy="797.3" r="7" class="lv"/><circle cx="667.3" cy="807" r="6" class="o"/>
<circle cx="620.7" cy="807" r="5.5" style="fill:#B8B0C0"/><circle cx="630.3" cy="812" r="1.5" class="r"/><circle cx="681.3" cy="820" r="3" class="lg"/><circle cx="720" cy="819.3" r="5.5" class="y"/>
<circle cx="737.3" cy="820.7" r="2" style="fill:#F04020"/><circle cx="827.7" cy="794.7" r="5" class="lv"/>
</g>
</g>
</svg>
